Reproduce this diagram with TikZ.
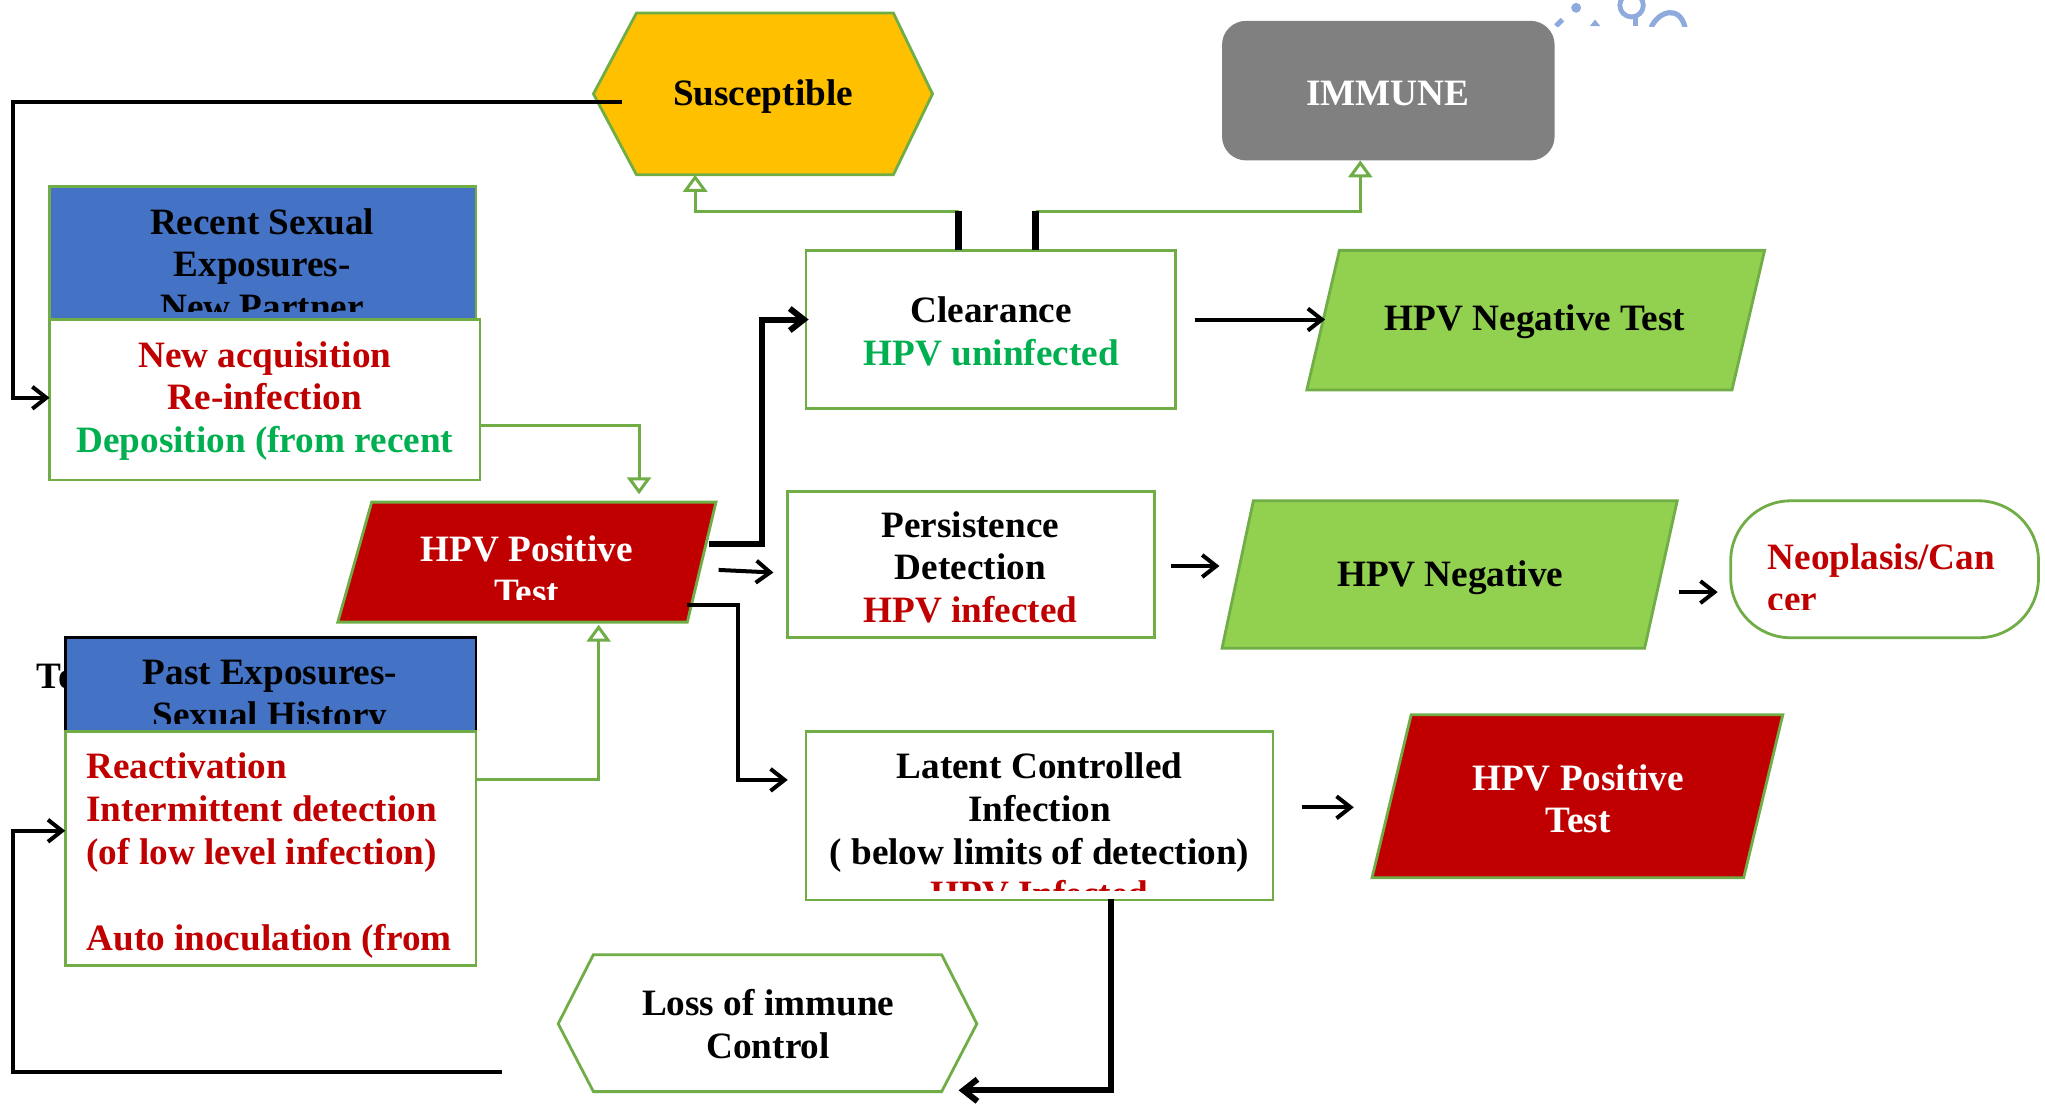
\documentclass[tikz,border=0pt]{standalone}
\usepackage{fontspec}
\setmainfont{Liberation Serif}
\usetikzlibrary{arrows.meta,fit}
\definecolor{grn}{RGB}{112,173,71}
\definecolor{gold}{RGB}{255,192,0}
\definecolor{gry}{RGB}{128,128,128}
\definecolor{blu}{RGB}{68,114,196}
\definecolor{dred}{RGB}{192,0,0}
\definecolor{lgrn}{RGB}{146,208,80}
\definecolor{tgrn}{RGB}{0,176,80}
\definecolor{wm}{RGB}{143,170,220}
\begin{document}
\begin{tikzpicture}[x=0.652pt,y=-0.652pt,
  txt/.style={font=\fontsize{18.6}{21.4}\selectfont\bfseries, align=center, inner sep=0pt},
  gbox/.style={draw=grn, line width=1.4pt},
  frame/.style={inner sep=0pt, outer sep=0pt},
  conn/.style={line width=2pt, -{Straight Barb[length=7pt,width=11pt]}},
  tconn/.style={line width=3pt},
  bar/.style={line width=3.6pt},
  gconn/.style={draw=grn, line width=1.5pt, -{Triangle[open,length=8.5pt,width=12pt,fill=white]}},
]
\useasboundingbox (0,0) rectangle (1568,847);

% watermark fragment
\begin{scope}
  \clip (1180,0) rectangle (1310,20);
  \fill[wm] (1208.5,6) circle (3.8);
  \draw[wm, line width=2.5pt] (1193,20) -- (1198,15);
  \fill[wm] (1219,20) -- (1223,15) -- (1227,20) -- cycle;
  \draw[wm, line width=2.4pt] (1251,4) circle (9);
  \draw[wm, line width=2.4pt] (1254,13) -- (1254,20);
  \draw[wm, line width=2.6pt] (1266,21) .. controls (1272,8) and (1288,4) .. (1292,21);
\end{scope}

% ---------- shapes ----------
% Susceptible
\draw[gbox, fill=gold] (455,72) -- (488,10) -- (685,10) -- (715,72) -- (685,134) -- (488,134) -- cycle;
\node[txt] (sus) at (585,74) {Susceptible};
\coordinate (susL) at (477,78);
\coordinate (susB) at (533,134);

% IMMUNE
\node[frame, fill=gry, rounded corners=12pt, fit={(937,16) (1192,123)}] (imm) {};
\node[txt, text=white] (immt) at (1064,72) {IMMUNE};
\coordinate (immB) at (1043,123);

% Recent sexual exposures
\node[frame, gbox, fill=blu, fit={(38,143) (365,245)}] (rb) {};
\begin{scope}
  \clip (38,143) rectangle (365,239);
  \node[txt] (rbt) at (201,202.5) {Recent Sexual\\Exposures-\\New Partner};
\end{scope}
\node[frame, gbox, fill=white, fit={(38,245) (368,368)}] (rw) {};
\node[txt] (rwt) at (203,307.5) {\textcolor{dred}{New acquisition}\\\textcolor{dred}{Re-infection}\\\textcolor{tgrn}{Deposition (from recent}};
\coordinate (rwL) at (38,305);
\coordinate (rwR) at (368,326);

% HPV Positive Test (left)
\draw[gbox, fill=dred] (285,385) -- (549,385) -- (527,477) -- (259,477) -- cycle;
\begin{scope}
  \clip (259,385) rectangle (549,460);
  \node[txt, text=white] (pt1) at (404,437.5) {HPV Positive\\Test};
\end{scope}
\coordinate (pT) at (490,379);
\coordinate (pB) at (459,479);
\coordinate (pR1) at (544,417);
\coordinate (pR2) at (551,437);
\coordinate (pR3) at (527,464);

% Clearance
\node[frame, gbox, fill=white, fit={(618,192) (901,313)}] (clr) {};
\node[txt] (clrt) at (760,254) {Clearance\\\textcolor{tgrn}{HPV uninfected}};
\coordinate (clrL) at (620,245);
\coordinate (clrR) at (916,245);
\coordinate (clrT1) at (735,192);
\coordinate (clrT2) at (794,192);
\coordinate (j1) at (735,162);
\coordinate (j2) at (794,162);

% HPV Negative Test
\draw[gbox, fill=lgrn] (1027,192) -- (1353,192) -- (1328,299) -- (1002,299) -- cycle;
\node[txt] (negt) at (1177,247) {HPV Negative Test};
\coordinate (negtL) at (1016,245);

% Persistence
\node[frame, gbox, fill=white, fit={(604,377) (885,489)}] (per) {};
\node[txt] (pert) at (744,435) {Persistence\\Detection\\\textcolor{dred}{HPV infected}};
\coordinate (perL) at (593,439);
\coordinate (perR) at (898,434);

% HPV Negative
\draw[gbox, fill=lgrn] (961,384) -- (1286,384) -- (1261,497) -- (937,497) -- cycle;
\node[txt] (neg) at (1112,443) {HPV Negative};
\coordinate (negL) at (935,434);
\coordinate (negR) at (1287,454);

% Neoplasis
\node[frame, gbox, fill=white, rounded corners=30pt, fit={(1327,384) (1563,489)}] (neo) {};
\begin{scope}
  \clip (1330,387) rectangle (1560,467.5);
  \node[txt, text=dred, align=left, anchor=west] (neot) at (1355,443) {Neoplasis/Can\\cer};
\end{scope}
\coordinate (neoL) at (1317,454);

% Past exposures
\node[txt, anchor=west] (to) at (28,519) {To};
\node[frame, draw=black, line width=1.4pt, fill=blu, fit={(50,489) (365,561)}] (pb) {};
\begin{scope}
  \clip (50,489) rectangle (365,555);
  \node[txt] (pbt) at (207,535) {Past Exposures-\\Sexual History};
\end{scope}
\node[frame, gbox, fill=white, fit={(50,561) (365,740)}] (pw) {};
\node[txt, text=dred, align=left, anchor=west] (pwt) at (66,656) {Reactivation\\Intermittent detection\\(of low level infection)\\\mbox{}\\Auto inoculation (from};
\coordinate (pwL) at (50,637);
\coordinate (pwR) at (365,598);

% Latent
\node[frame, gbox, fill=white, fit={(618,561) (976,690)}] (lat) {};
\begin{scope}
  \clip (620,563) rectangle (974,683);
  \node[txt] (latt) at (797,636.5) {Latent Controlled\\Infection\\( below limits of detection)\\\textcolor{dred}{HPV Infected}};
\end{scope}
\coordinate (latL) at (604,598);
\coordinate (latR) at (998,619);
\coordinate (latB) at (852,689);

% HPV Positive Test (right)
\draw[gbox, fill=dred] (1082,548) -- (1367,548) -- (1337,673) -- (1052,673) -- cycle;
\node[txt, text=white] (pt2) at (1210,612.5) {HPV Positive\\Test};
\coordinate (pt2L) at (1038,619);

% Loss of immune control
\draw[gbox, fill=white] (428,785) -- (455,732) -- (722,732) -- (749,785) -- (722,837) -- (455,837) -- cycle;
\node[txt] (loss) at (589,785.5) {Loss of immune\\Control};
\coordinate (lossR) at (735,836);
\coordinate (lossS) at (385,822);

% ---------- connectors ----------
\draw[conn] (susL) -- (10,78) -- (10,305) -- (rwL);
\draw[gconn] (rwR) -- (490,326) -- (pT);
\draw[gconn] (pwR) -- (459,598) -- (pB);
\draw[tconn, -{Straight Barb[length=7pt,width=11pt]}] (pR1) -- (584,417) -- (584,245) -- (clrL);
\draw[conn] (pR2) -- (perL);
\draw[conn] (pR3) -- (566,464) -- (566,598) -- (latL);
\draw[gconn] (j1) -- (533,162) -- (susB);
\draw[gconn] (j2) -- (1043,162) -- (immB);
\draw[bar] (clrT1) -- (j1);
\draw[bar] (clrT2) -- (j2);
\draw[conn] (clrR) -- (negtL);
\draw[conn] (perR) -- (negL);
\draw[conn] (negR) -- (neoL);
\draw[conn] (latR) -- (pt2L);
\draw[tconn, -{Straight Barb[length=7pt,width=11pt]}] (latB) -- (852,836) -- (lossR);
\draw[conn] (lossS) -- (10,822) -- (10,637) -- (pwL);
\end{tikzpicture}
\end{document}
